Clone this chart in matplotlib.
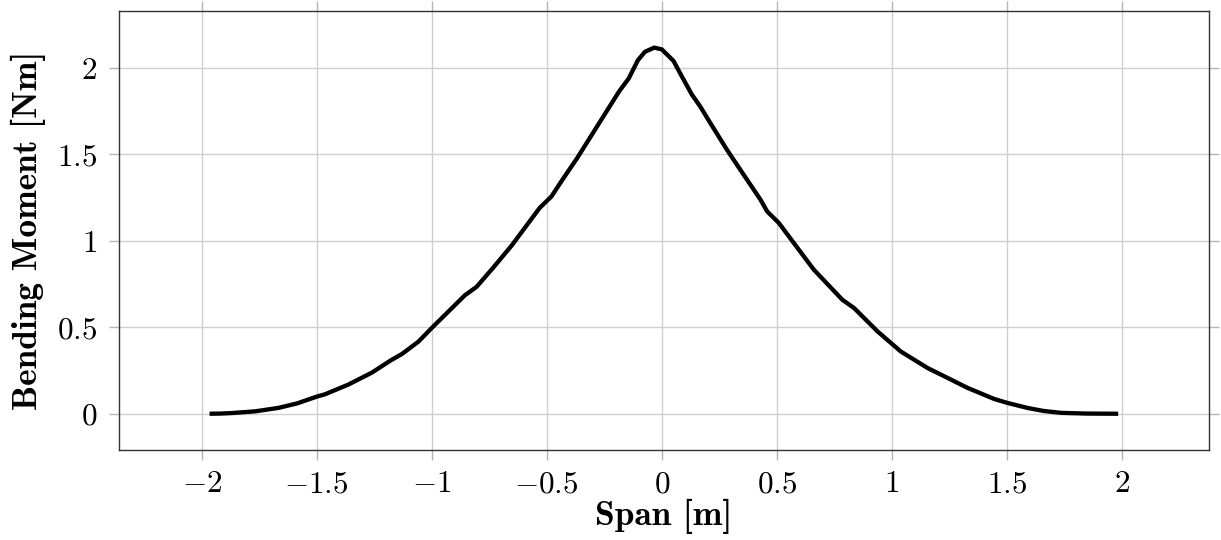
import matplotlib
matplotlib.use("Agg")
import matplotlib.pyplot as plt
from matplotlib.ticker import FuncFormatter

plt.rcParams['mathtext.fontset'] = 'cm'
plt.rcParams['font.family'] = 'serif'
plt.rcParams['font.serif'] = ['cmr10']
plt.rcParams['axes.unicode_minus'] = True

# Span positions [m] and bending moment [Nm]
span = [-1.966, -1.920, -1.869, -1.767, -1.666, -1.585, -1.500, -1.463, -1.362, -1.260,
        -1.179, -1.128, -1.058, -1.000, -0.917, -0.856, -0.805, -0.734, -0.653, -0.592,
        -0.531, -0.480, -0.429, -0.368, -0.307, -0.246, -0.185, -0.144, -0.104, -0.073,
        -0.033, 0.000, 0.051, 0.087, 0.131, 0.167, 0.211, 0.283, 0.356, 0.429,
        0.458, 0.509, 0.574, 0.661, 0.785, 0.836, 0.938, 1.039, 1.156, 1.214,
        1.330, 1.446, 1.504, 1.592, 1.660, 1.737, 1.850, 1.984]
moment = [0.000, 0.001, 0.004, 0.014, 0.034, 0.060, 0.099, 0.113, 0.169, 0.238,
          0.308, 0.347, 0.417, 0.496, 0.605, 0.685, 0.734, 0.843, 0.972, 1.081,
          1.190, 1.256, 1.359, 1.478, 1.607, 1.736, 1.865, 1.938, 2.044, 2.093,
          2.117, 2.107, 2.040, 1.951, 1.845, 1.777, 1.681, 1.527, 1.382, 1.238,
          1.170, 1.103, 0.987, 0.833, 0.659, 0.611, 0.476, 0.360, 0.264, 0.226,
          0.149, 0.085, 0.062, 0.033, 0.016, 0.005, 0.001, 0.000]

x_ticks = [-2, -1.5, -1, -0.5, 0, 0.5, 1, 1.5, 2]
y_ticks = [0, 0.5, 1, 1.5, 2]

fig = plt.figure(figsize=(12.21, 5.40), dpi=100)
ax = fig.add_axes([0.0972, 0.1660, 0.9902 - 0.0972, 0.9796 - 0.1660])

ax.plot(span, moment, color='black', linewidth=3.1,
        solid_joinstyle='round', solid_capstyle='butt', zorder=3)

# pgfplots-style enlarged limits (10% of the data range)
xr = max(span) - min(span)
yr = max(moment) - min(moment)
ax.set_xlim(min(span) - 0.1 * xr, max(span) + 0.1 * xr)
ax.set_ylim(min(moment) - 0.1 * yr, max(moment) + 0.1 * yr)

ax.set_xticks(x_ticks)
ax.set_yticks(y_ticks)
fmt = FuncFormatter(lambda v, _: f'${v:g}$')
ax.xaxis.set_major_formatter(fmt)
ax.yaxis.set_major_formatter(fmt)

ax.grid(True, color='#cfcfcf', linewidth=1.0, zorder=0)
ax.tick_params(axis='both', which='major', direction='out', length=7.5, width=1.0,
               color='#b5b5b5', labelsize=22.5, pad=7,
               top=True, right=True)
ax.tick_params(axis='y', pad=8)
for s in ax.spines.values():
    s.set_color('#333333')
    s.set_linewidth(1.0)

ax.set_xlabel('Span [m]', fontfamily='cmb10', fontsize=25.5, labelpad=0)
ax.set_ylabel('Bending Moment [Nm]', fontfamily='cmb10', fontsize=25.5, labelpad=8)

fig.savefig('out.png', dpi=100)
